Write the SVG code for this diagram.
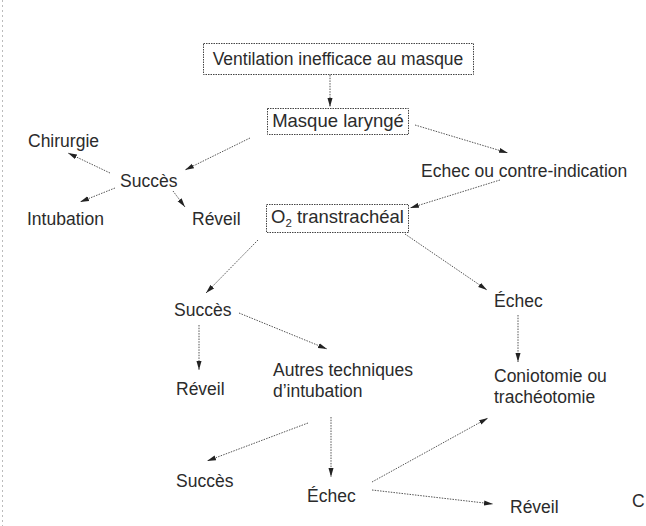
<svg xmlns="http://www.w3.org/2000/svg" width="646" height="526" viewBox="0 0 646 526">
<defs>
<style>
.t{font-family:"Liberation Sans",Arial,sans-serif;font-size:17.5px;fill:#2b2b2b}
.bt{font-size:18.5px}
.box{fill:none;stroke:#444;stroke-width:1;stroke-dasharray:1.5 1}
.c{fill:none;stroke:#555;stroke-width:1;stroke-dasharray:1.5 1.2;marker-end:url(#ah)}
</style>
<marker id="ah" markerUnits="userSpaceOnUse" markerWidth="10" markerHeight="6" refX="9" refY="3" orient="auto">
<path d="M0,0.5 L9,3 L0,5.5 z" fill="#222"/>
</marker>
</defs>
<rect width="646" height="526" fill="#fff"/>
<line x1="2.5" y1="0" x2="2.5" y2="526" stroke="#bbb" stroke-width="1" stroke-dasharray="2 3"/>

<g id="n-ventilation"><rect class="box" x="203.5" y="43.5" width="270" height="31"/><text class="t" x="338" y="65" text-anchor="middle" font-size="18">Ventilation inefficace au masque</text></g>
<g id="n-masque"><rect class="box" x="267.5" y="108.5" width="141" height="26"/><text class="t bt" x="338" y="127" text-anchor="middle">Masque laryngé</text></g>
<g id="n-echec1"><text class="t" x="421" y="177">Echec ou contre-indication</text></g>
<g id="n-chirurgie"><text class="t" x="28" y="147">Chirurgie</text></g>
<g id="n-succes1"><text class="t" x="120" y="187">Succès</text></g>
<g id="n-intubation"><text class="t" x="27" y="225">Intubation</text></g>
<g id="n-reveil1"><text class="t" x="192" y="225">Réveil</text></g>
<g id="n-o2"><rect class="box" x="266.5" y="204.5" width="142" height="28"/><text class="t bt" x="271" y="223">O<tspan font-size="11.5" dy="4">2</tspan><tspan dy="-4"> transtrachéal</tspan></text></g>
<g id="n-succes2"><text class="t" x="174" y="316">Succès</text></g>
<g id="n-echec2"><text class="t" x="494" y="307">Échec</text></g>
<g id="n-reveil2"><text class="t" x="176" y="395">Réveil</text></g>
<g id="n-autres"><text class="t" x="273" y="376">Autres techniques</text><text class="t" x="273" y="397">d’intubation</text></g>
<g id="n-conio"><text class="t" x="494" y="382">Coniotomie ou</text><text class="t" x="494" y="403">trachéotomie</text></g>
<g id="n-succes3"><text class="t" x="176" y="487">Succès</text></g>
<g id="n-echec3"><text class="t" x="307" y="502">Échec</text></g>
<g id="n-reveil3"><text class="t" x="510" y="513">Réveil</text></g>
<g id="n-label"><text class="t" x="632" y="507">C</text></g>

<g id="connectors">
<line class="c" x1="330" y1="75" x2="330" y2="107"/>
<line class="c" x1="250" y1="138" x2="185" y2="170"/>
<line class="c" x1="415" y1="125" x2="508" y2="153"/>
<line class="c" x1="110" y1="173" x2="68" y2="153"/>
<line class="c" x1="115" y1="188" x2="80" y2="202"/>
<line class="c" x1="173" y1="191" x2="185" y2="207"/>
<line class="c" x1="500" y1="180" x2="410" y2="208"/>
<line class="c" x1="258" y1="240" x2="206" y2="293"/>
<line class="c" x1="405" y1="234" x2="487" y2="290"/>
<line class="c" x1="199" y1="325" x2="199" y2="370"/>
<line class="c" x1="239" y1="313" x2="327" y2="349"/>
<line class="c" x1="518" y1="315" x2="518" y2="362"/>
<line class="c" x1="308" y1="423" x2="207" y2="461"/>
<line class="c" x1="331" y1="417" x2="331" y2="477"/>
<line class="c" x1="372" y1="482" x2="488" y2="418"/>
<line class="c" x1="372" y1="490" x2="493" y2="504"/>
</g>
</svg>
